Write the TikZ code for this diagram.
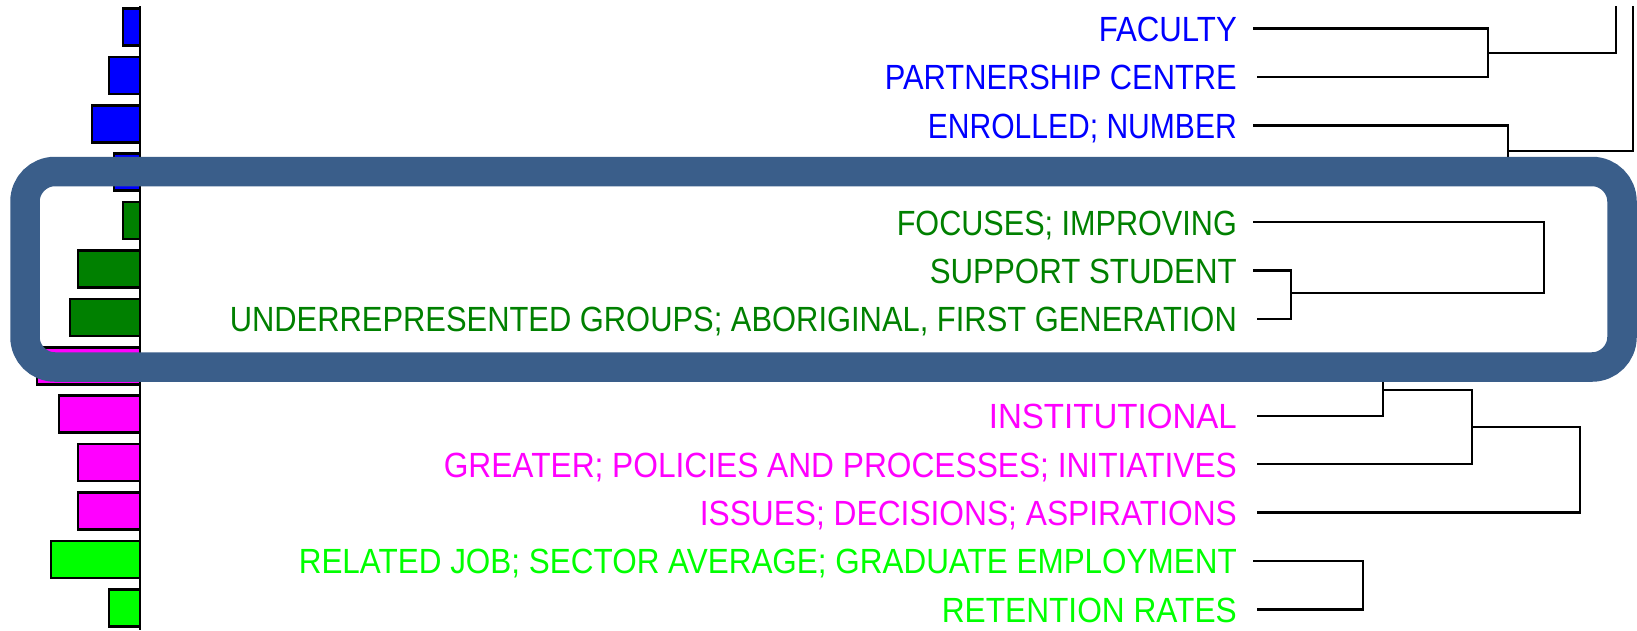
\documentclass[tikz,border=0pt]{standalone}
\usepackage{fontspec}
\usepackage{graphicx}
\setmainfont{Liberation Sans}
\definecolor{cblue}{RGB}{0,0,255}
\definecolor{cgreen}{RGB}{0,128,0}
\definecolor{cmag}{RGB}{255,0,255}
\definecolor{clime}{RGB}{0,255,0}
\definecolor{boxblue}{RGB}{58,94,138}
\newcommand{\fitw}[2]{\resizebox{#1pt}{\height}{#2}}
\tikzset{
  lbl/.style={anchor=base east, inner sep=0pt, font=\fontsize{35}{40}\selectfont},
  bar/.style={draw=black, line width=2.5pt},
  tree/.style={draw=black, line width=2.4pt},
  hilite/.style={draw=boxblue, line width=29.5pt, rounded corners=30pt}
}
\begin{document}
\begin{tikzpicture}[x=1pt,y=-1pt]
\useasboundingbox (0,0) rectangle (1637,630);
% bars
\foreach \xl/\yc/\c in {123/27/cblue,109/75.4/cblue,92/123.8/cblue,114/172.2/cblue,
  123/220.6/cgreen,78/269/cgreen,70/317.4/cgreen,
  37/365.8/cmag,59/414.2/cmag,78/462.6/cmag,78/511/cmag,
  51/559.4/clime,109/607.8/clime}
  \draw[bar, fill=\c] (\xl,\yc-18.5) rectangle (140,\yc+18.5);
\draw[line width=2.8pt] (140,6) -- (140,630);
% labels
\node[lbl, text=cblue] (t1) at (1237,41.5) {\fitw{138}{FACULTY}};
\node[lbl, text=cblue] (t2) at (1237,89.9) {\fitw{352}{PARTNERSHIP CENTRE}};
\node[lbl, text=cblue] (t3) at (1237,138.3) {\fitw{309}{ENROLLED; NUMBER}};
\node[lbl, text=cgreen] (t5) at (1237,235.1) {\fitw{340}{FOCUSES; IMPROVING}};
\node[lbl, text=cgreen] (t6) at (1237,283.5) {\fitw{307}{SUPPORT STUDENT}};
\node[lbl, text=cgreen] (t7) at (1237,331.9) {\fitw{1007}{UNDERREPRESENTED GROUPS; ABORIGINAL, FIRST GENERATION}};
\node[lbl, text=cmag] (t9) at (1237,428.7) {\fitw{248}{INSTITUTIONAL}};
\node[lbl, text=cmag] (t10) at (1237,477.1) {\fitw{793}{GREATER; POLICIES AND PROCESSES; INITIATIVES}};
\node[lbl, text=cmag] (t11) at (1237,525.5) {\fitw{537}{ISSUES; DECISIONS; ASPIRATIONS}};
\node[lbl, text=clime] (t12) at (1237,573.9) {\fitw{938}{RELATED JOB; SECTOR AVERAGE; GRADUATE EMPLOYMENT}};
\node[lbl, text=clime] (t13) at (1237,622.3) {\fitw{295}{RETENTION RATES}};
% dendrogram leaf starts
\coordinate (l1) at (1253,28.5);
\coordinate (l2) at (1257,76.9);
\coordinate (l3) at (1253,125.3);
\coordinate (l4) at (1257,173.7);
\coordinate (l5) at (1253,222.1);
\coordinate (l6) at (1253,270.5);
\coordinate (l7) at (1257,318.9);
\coordinate (l8) at (1257,367.3);
\coordinate (l9) at (1257,415.7);
\coordinate (l10) at (1257,464.1);
\coordinate (l11) at (1257,512.5);
\coordinate (l12) at (1253,560.9);
\coordinate (l13) at (1257,609.3);
% joints
\coordinate (j12) at (1488,53);
\coordinate (top1) at (1616,6);
\coordinate (j34) at (1508,151);
\coordinate (top2) at (1633,6);
\coordinate (j67) at (1291,293);
\coordinate (j567) at (1544,293);
\coordinate (j89) at (1383,390);
\coordinate (j810) at (1472,427);
\coordinate (j811) at (1580,427);
\coordinate (j1213) at (1363,585);
\draw[tree] (l1) -| (j12) |- (l2);
\draw[tree] (j12) -| (top1);
\draw[tree] (l3) -| (j34) |- (l4);
\draw[tree] (j34) -| (top2);
\draw[tree] (l6) -| (j67) |- (l7);
\draw[tree] (l5) -| (j567) -- (j67);
\draw[tree] (l8) -| (j89) |- (l9);
\draw[tree] (j89) -| (j810) |- (l10);
\draw[tree] (j810) -- (j811) |- (l11);
\draw[tree] (l12) -| (j1213) |- (l13);
% highlight box
\draw[hilite] (25,171.5) rectangle (1622,367);
\end{tikzpicture}
\end{document}
